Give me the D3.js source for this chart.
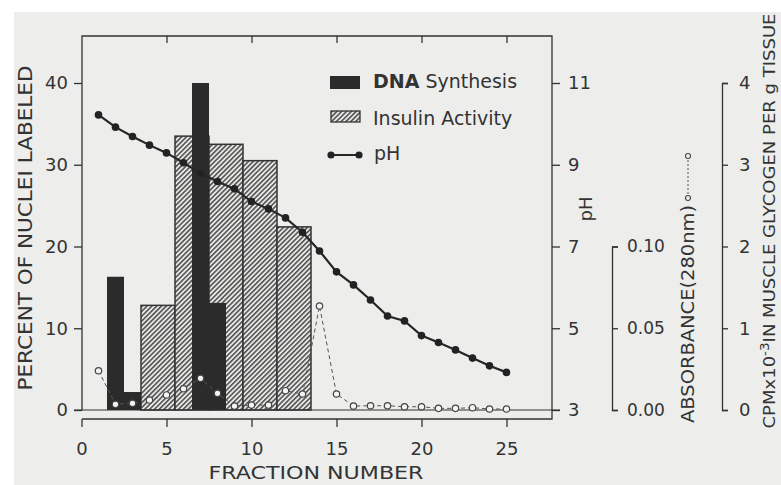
<!DOCTYPE html>
<html>
<head>
<meta charset="utf-8">
<script src="https://cdn.jsdelivr.net/npm/d3@7"></script>
<style>
  body { margin: 0; background: #fff; }
  text { font-family: "DejaVu Sans", sans-serif; fill: #333; }
</style>
</head>
<body>
<script>
// values
var fractions = [1, 2, 3, 4, 5, 6, 7, 8, 9, 10, 11, 12, 13, 14, 15, 16, 17, 18, 19, 20, 21, 22, 23, 24, 25];
var phValues = [10.22, 9.92, 9.69, 9.48, 9.29, 9.05, 8.79, 8.59, 8.41, 8.10, 7.92, 7.70, 7.35,
                6.89, 6.38, 6.06, 5.69, 5.30, 5.18, 4.82, 4.65, 4.47, 4.27, 4.08, 3.92];
var absorbance = [0.024, 0.0035, 0.0041, 0.0061, 0.0092, 0.013, 0.0194, 0.0102, 0.0024, 0.003, 0.003,
                  0.0118, 0.0098, 0.0636, 0.0098, 0.0024, 0.0026, 0.0026, 0.002, 0.002, 0.001, 0.001,
                  0.0014, 0.0006, 0.0006];
var dnaFractions = [2, 3, 7, 8];
var dnaPercent = [16.3, 2.2, 40, 13.1];
var insulinFirst = [4, 6, 8, 10, 12];
var insulinLast = [5, 7, 9, 11, 13];
var insulinCpm = [1.28, 3.35, 3.25, 3.05, 2.24];

var xTicks = [0, 5, 10, 15, 20, 25];
var percentTicks = [0, 10, 20, 30, 40];
var phTicks = [3, 5, 7, 9, 11];
var absTicks = [0, 0.05, 0.10];
var cpmTicks = [0, 1, 2, 3, 4];

var width = 781, height = 485;
var ink = "#333";

var svg = d3.select("body").append("svg")
  .attr("width", width)
  .attr("height", height);

// scanned paper tone
svg.append("rect")
  .attr("x", 14).attr("y", 12)
  .attr("width", width - 14).attr("height", height - 12)
  .attr("fill", "#ededeb");

var defs = svg.append("defs");
var hatch = defs.append("pattern")
  .attr("id", "hatch")
  .attr("patternUnits", "userSpaceOnUse")
  .attr("width", 3.4).attr("height", 3.4)
  .attr("patternTransform", "rotate(45)");
hatch.append("rect")
  .attr("width", 3.4).attr("height", 3.4).attr("fill", "#e8e8e6");
hatch.append("line")
  .attr("x1", 0.8).attr("y1", 0).attr("x2", 0.8).attr("y2", 3.4)
  .attr("stroke", "#2a2a2a").attr("stroke-width", 1.25);

var xScale = d3.scaleLinear().domain([0, 25]).range([81.5, 506.5]);
var yScale = d3.scaleLinear().domain([0, 40]).range([410, 83]);
var phScale = d3.scaleLinear().domain([3, 11]).range([410, 83]);
var absScale = d3.scaleLinear().domain([0, 0.10]).range([410, 246.5]);
var cpmScale = d3.scaleLinear().domain([0, 4]).range([410, 83]);

var frameLeft = 82, frameRight = 552, frameTop = 36, xAxisY = 419;
var unit = xScale(1) - xScale(0);

// insulin activity (hatched)
svg.append("g").selectAll("rect")
  .data(insulinCpm)
  .enter().append("rect")
  .attr("x", function(d, i) { return xScale(insulinFirst[i] - 0.5); })
  .attr("width", function(d, i) { return xScale(insulinLast[i] + 0.5) - xScale(insulinFirst[i] - 0.5); })
  .attr("y", function(d) { return cpmScale(d); })
  .attr("height", function(d) { return cpmScale(0) - cpmScale(d); })
  .attr("fill", "url(#hatch)")
  .attr("stroke", ink)
  .attr("stroke-width", 1.5);

// DNA synthesis (solid)
svg.append("g").selectAll("rect")
  .data(dnaPercent)
  .enter().append("rect")
  .attr("x", function(d, i) { return xScale(dnaFractions[i] - 0.5); })
  .attr("width", unit)
  .attr("y", function(d) { return yScale(d); })
  .attr("height", function(d) { return yScale(0) - yScale(d); })
  .attr("fill", "#2b2b2b");

// frame
var frame = svg.append("g").attr("stroke", ink).attr("stroke-width", 1.3).attr("fill", "none");
frame.append("path")
  .attr("d", "M" + frameLeft + "," + yScale(0) + "V" + frameTop + "H" + frameRight + "V" + xAxisY + "H" + frameLeft);
frame.append("line")
  .attr("x1", 74).attr("x2", 560)
  .attr("y1", yScale(0)).attr("y2", yScale(0))
  .attr("stroke-width", 1);

function styleAxis(g, size) {
  g.attr("font-family", null).attr("font-size", null);
  g.selectAll("line").attr("stroke", ink).attr("stroke-width", 1.3);
  g.selectAll("path.domain").attr("stroke", ink).attr("stroke-width", 1.3);
  g.selectAll("text").style("font-size", size + "px").attr("fill", ink);
}

// left axis
svg.append("g")
  .attr("transform", "translate(" + frameLeft + ",0)")
  .call(d3.axisLeft(yScale).tickValues(percentTicks).tickSize(8).tickPadding(6))
  .call(function(g) { g.select(".domain").remove(); })
  .call(styleAxis, 18);

// bottom axis
svg.append("g")
  .attr("transform", "translate(0," + xAxisY + ")")
  .call(d3.axisBottom(xScale).tickValues(xTicks).tickSize(8).tickPadding(15))
  .call(function(g) { g.select(".domain").remove(); })
  .call(styleAxis, 18);

// top ticks
svg.append("g")
  .attr("transform", "translate(0," + frameTop + ")")
  .call(d3.axisTop(xScale).tickValues(xTicks.slice(1)).tickSize(-7).tickFormat(""))
  .call(function(g) { g.select(".domain").remove(); })
  .call(styleAxis, 18);

// pH axis
svg.append("g")
  .attr("transform", "translate(" + frameRight + ",0)")
  .call(d3.axisRight(phScale).tickValues(phTicks).tickSize(8).tickPadding(8))
  .call(function(g) { g.select(".domain").remove(); })
  .call(styleAxis, 18);

// absorbance axis
svg.append("g")
  .attr("transform", "translate(612,0)")
  .call(d3.axisRight(absScale).tickValues(absTicks).tickSize(6).tickPadding(9).tickFormat(d3.format(".2f")))
  .call(styleAxis, 17);

// CPM axis
svg.append("g")
  .attr("transform", "translate(722,0)")
  .call(d3.axisRight(cpmScale).tickValues(cpmTicks).tickSize(6).tickPadding(11).tickFormat(d3.format("d")))
  .call(styleAxis, 18);

// pH line
var phLine = d3.line()
  .x(function(d, i) { return xScale(fractions[i]); })
  .y(function(d) { return phScale(d); });

svg.append("path")
  .datum(phValues)
  .attr("d", phLine)
  .attr("fill", "none")
  .attr("stroke", "#262626")
  .attr("stroke-width", 2.2);

svg.append("g").selectAll("circle")
  .data(phValues)
  .enter().append("circle")
  .attr("cx", function(d, i) { return xScale(fractions[i]); })
  .attr("cy", function(d) { return phScale(d); })
  .attr("r", 3.8)
  .attr("fill", "#222");

// absorbance line
var absLine = d3.line()
  .x(function(d, i) { return xScale(fractions[i]); })
  .y(function(d) { return absScale(d); });

svg.append("path")
  .datum(absorbance)
  .attr("d", absLine)
  .attr("fill", "none")
  .attr("stroke", "#555")
  .attr("stroke-width", 1)
  .attr("stroke-dasharray", "4,3");

svg.append("g").selectAll("circle")
  .data(absorbance)
  .enter().append("circle")
  .attr("cx", function(d, i) { return xScale(fractions[i]); })
  .attr("cy", function(d) { return absScale(d); })
  .attr("r", 3.2)
  .attr("fill", "#f4f4f2")
  .attr("stroke", "#444")
  .attr("stroke-width", 1.2);

// legend
var legend = svg.append("g");
legend.append("rect")
  .attr("x", 330).attr("y", 76).attr("width", 30).attr("height", 13)
  .attr("fill", "#2b2b2b");
var t1 = legend.append("text").attr("x", 373).attr("y", 88).style("font-size", "19px");
t1.append("tspan").attr("font-weight", "bold").text("DNA");
t1.append("tspan").text(" Synthesis");

legend.append("rect")
  .attr("x", 331).attr("y", 111).attr("width", 29).attr("height", 11)
  .attr("fill", "url(#hatch)").attr("stroke", ink).attr("stroke-width", 1.3);
legend.append("text").attr("x", 373).attr("y", 125).style("font-size", "19px")
  .text("Insulin Activity");

legend.append("line")
  .attr("x1", 331).attr("x2", 359).attr("y1", 155).attr("y2", 155)
  .attr("stroke", "#262626").attr("stroke-width", 2);
legend.selectAll("circle.key")
  .data([331, 359])
  .enter().append("circle")
  .attr("cx", function(d) { return d; }).attr("cy", 155).attr("r", 3.6)
  .attr("fill", "#222");
legend.append("text").attr("x", 374).attr("y", 160).style("font-size", "19px")
  .text("pH");

// axis titles
svg.append("text")
  .attr("transform", "translate(32,228) rotate(-90)")
  .attr("text-anchor", "middle")
  .attr("textLength", 325).attr("lengthAdjust", "spacingAndGlyphs")
  .style("font-size", "20px")
  .text("PERCENT OF NUCLEI LABELED");

svg.append("text")
  .attr("x", 316).attr("y", 479)
  .attr("text-anchor", "middle")
  .attr("textLength", 215).attr("lengthAdjust", "spacingAndGlyphs")
  .style("font-size", "18px")
  .text("FRACTION NUMBER");

svg.append("text")
  .attr("transform", "translate(592,209) rotate(-90)")
  .attr("text-anchor", "middle")
  .style("font-size", "18px")
  .text("pH");

svg.append("text")
  .attr("transform", "translate(694,314) rotate(-90)")
  .attr("text-anchor", "middle")
  .attr("textLength", 218).attr("lengthAdjust", "spacingAndGlyphs")
  .style("font-size", "17px")
  .text("ABSORBANCE(280nm)");

// little open-circle key beside the absorbance title
var absKey = svg.append("g");
absKey.append("line")
  .attr("x1", 688).attr("x2", 688).attr("y1", 156).attr("y2", 198)
  .attr("stroke", "#555").attr("stroke-width", 1).attr("stroke-dasharray", "2,2");
absKey.selectAll("circle")
  .data([156, 198])
  .enter().append("circle")
  .attr("cx", 688).attr("cy", function(d) { return d; }).attr("r", 2.5)
  .attr("fill", "#f4f4f2").attr("stroke", "#444").attr("stroke-width", 1.1);

var cpmTitle = svg.append("text")
  .attr("transform", "translate(775,221) rotate(-90)")
  .attr("text-anchor", "middle")
  .attr("textLength", 415).attr("lengthAdjust", "spacingAndGlyphs")
  .style("font-size", "16px");
cpmTitle.append("tspan").text("CPMx10");
cpmTitle.append("tspan").attr("dy", -6).style("font-size", "12px").text("-3");
cpmTitle.append("tspan").attr("dy", 6).text("IN MUSCLE GLYCOGEN PER g TISSUE");
</script>
</body>
</html>
